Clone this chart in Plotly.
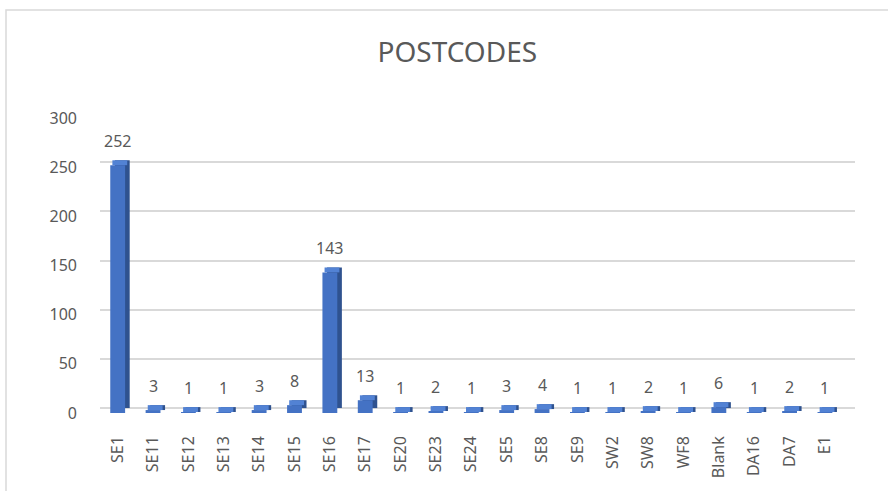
import plotly.graph_objects as go

categories = ["SE1", "SE11", "SE12", "SE13", "SE14", "SE15", "SE16", "SE17", "SE20", "SE23",
              "SE24", "SE5", "SE8", "SE9", "SW2", "SW8", "WF8", "Blank", "DA16", "DA7", "E1"]
counts = [252, 3, 1, 1, 3, 8, 143, 13, 1, 2, 1, 3, 4, 1, 1, 2, 1, 6, 1, 2, 1]
y_ticks = [0, 50, 100, 150, 200, 250, 300]

DEPTH = 5  # visual depth of the 3D effect, in value units
FRONT = "#4472C4"
TOP = "#5282D4"
SIDE = "#2F528F"
TXT = "#595959"
FONT = "Noto Sans"

back_base = [min(v, DEPTH) for v in counts]
back_len = [v + DEPTH - b for v, b in zip(counts, back_base)]
top_len = [DEPTH for _ in counts]

fig = go.Figure()
# back/side face (darker), shifted right
fig.add_trace(go.Bar(x=categories, y=back_len, base=back_base, width=0.42, offset=-0.08,
                     marker=dict(color=SIDE, line=dict(width=0)), hoverinfo="skip",
                     showlegend=False))
# top face (lighter), half-shifted
fig.add_trace(go.Bar(x=categories, y=top_len, base=counts, width=0.42, offset=-0.15,
                     marker=dict(color=TOP, line=dict(width=0)), hoverinfo="skip",
                     showlegend=False))
# front face
fig.add_trace(go.Bar(x=categories, y=counts, width=0.42, offset=-0.21,
                     marker=dict(color=FRONT, line=dict(width=0)), showlegend=False))
# invisible trace on the gridline axis
fig.add_trace(go.Scatter(x=[categories[0]], y=[0], yaxis="y2", mode="markers",
                         marker=dict(opacity=0), hoverinfo="skip", showlegend=False))

for c, v in zip(categories, counts):
    fig.add_annotation(x=c, y=v, text=str(v), showarrow=False, yshift=24,
                       yanchor="middle", font=dict(family=FONT, size=16, color=TXT))

fig.update_layout(
    width=888, height=491,
    margin=dict(l=100, r=33, t=118, b=78),
    paper_bgcolor="white", plot_bgcolor="rgba(0,0,0,0)",
    barmode="overlay",
    title=dict(text="POSTCODES", x=0.515, xanchor="center", y=0.894, yanchor="middle",
               font=dict(family=FONT, size=28, color=TXT)),
    xaxis=dict(type="category", range=[-0.5, 20.85], tickangle=-90, showgrid=False,
               showline=False, zeroline=False, ticks="", ticklabelstandoff=19,
               tickfont=dict(family=FONT, size=16, color=TXT)),
    yaxis=dict(range=[0, 300], tickvals=y_ticks, showgrid=False, zeroline=False,
               showline=False, ticks="", ticklabelstandoff=22,
               tickfont=dict(family=FONT, size=16, color=TXT)),
    yaxis2=dict(overlaying="y", range=[-DEPTH, 300 - DEPTH], tickvals=y_ticks,
                showticklabels=False, showgrid=True, gridcolor="#D9D9D9", gridwidth=1.5,
                zeroline=False, showline=False),
    shapes=[dict(type="rect", xref="paper", yref="paper",
                 x0=(6 - 100) / 755, x1=(900 - 100) / 755,
                 y0=-(500 - 413) / 295, y1=(413 - 10) / 295,
                 line=dict(color="#D9D9D9", width=1.5), fillcolor="rgba(0,0,0,0)",
                 layer="below")],
)

fig.write_html("out.html", config={"displayModeBar": False},
               post_script="document.body.style.margin='0px';")
